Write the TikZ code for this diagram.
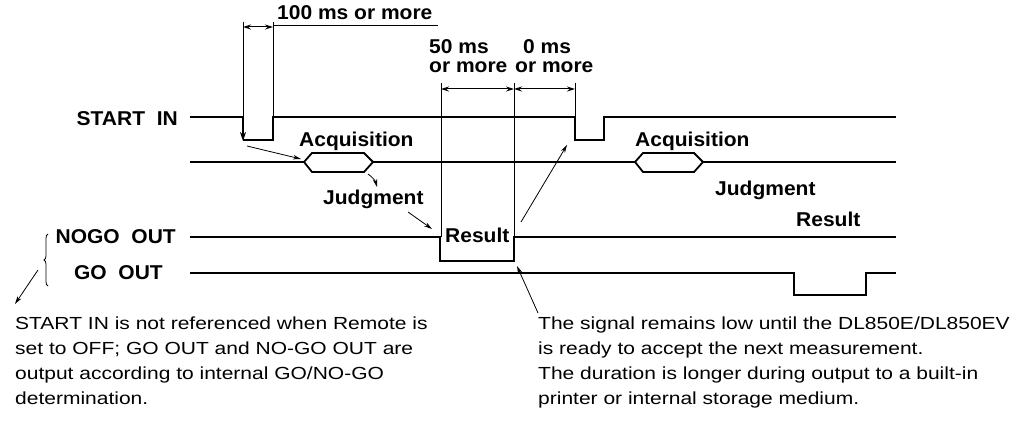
\documentclass[tikz,border=0pt]{standalone}
\usepackage{fontspec}
\setmainfont{Liberation Sans}
\newfontfamily\notefont[FakeStretch=1.2]{Liberation Sans}
\newfontfamily\tagfont[FakeStretch=1.05]{Liberation Sans}
\usetikzlibrary{arrows.meta,positioning,calc,decorations.pathreplacing}

\begin{document}
\begin{tikzpicture}[
    x=1pt, y=-1pt,
    tag/.style={font={\tagfont\bfseries\fontsize{20}{19}\selectfont}, inner sep=0pt, align=left},
    note/.style={font={\notefont\fontsize{17.5}{25}\selectfont}, inner sep=0pt, align=left},
    sig/.style={line width=1.8pt, line join=miter},
    ext/.style={line width=1pt},
    dim/.style={{Stealth[length=8pt,width=5pt]}-{Stealth[length=8pt,width=5pt]}, line width=1pt},
    ptr/.style={-{Stealth[length=8pt,width=4.5pt]}, line width=0.8pt}
  ]
    \useasboundingbox (0,0) rectangle (1016,425);

    % Signal names
    \node[tag, anchor=east] (startlbl) at (178,119) {START\ \ IN};
    \node[tag, anchor=east] (nogolbl)  at (176,237) {NOGO\ \ OUT};
    \node[tag, anchor=east] (golbl)    at (163,273) {GO\ \ OUT};

    % Timing labels
    \node[tag, anchor=base west] (t100) at (277,20) {100 ms or more};
    \node[tag, anchor=north west] (t50) at (429,39) {50 ms\\or more};
    \node[tag, anchor=north west] (t0)  at (515,39) {\hspace{8pt}0 ms\\or more};

    % Phase labels
    \node[tag, anchor=base west] (acq1)  at (299,146) {Acquisition};
    \node[tag, anchor=base west] (judg1) at (323,204) {Judgment};
    \node[tag, anchor=base west] (res1)  at (445,242) {Result};
    \node[tag, anchor=base west] (acq2)  at (635,146) {Acquisition};
    \node[tag, anchor=base west] (judg2) at (715,195) {Judgment};
    \node[tag, anchor=base west] (res2)  at (796,226) {Result};

    % Notes
    \node[note, anchor=north west] (remnote) at (15,317)
      {START IN is not referenced when Remote is\\set to OFF; GO OUT and NO-GO OUT are\\output according to internal GO/NO-GO\\determination.};
    \node[note, anchor=north west] (lownote) at (538,317)
      {The signal remains low until the DL850E/DL850EV\\is ready to accept the next measurement.\\The duration is longer during output to a built-in\\printer or internal storage medium.};

    % START IN
    \draw[sig] (190,117) -- (243,117);
    \draw[sig, -{Stealth[length=9pt,width=6pt]}] (243,117) -- (243,141);
    \draw[sig] (243,140) -- (273,140) -- (273,117) -- (575,117) -- (575,140)
      -- (604,140) -- (604,117) -- (896,117);

    % Acquisition / judgment line
    \draw[sig] (190,162) -- (304,162) -- (312,153) -- (364,153) -- (373,162)
      -- (364,172) -- (312,172) -- (304,162);
    \draw[sig] (373,162) -- (635,162) -- (643,153) -- (694,153) -- (703,162)
      -- (694,172) -- (643,172) -- (635,162);
    \draw[sig] (703,162) -- (896,162);

    % NOGO OUT and GO OUT
    \draw[sig] (190,237) -- (440,237) -- (440,261) -- (514,261) -- (514,237) -- (896,237);
    \draw[sig] (190,273) -- (794,273) -- (794,295) -- (866,295) -- (866,273) -- (896,273);

    % Extension lines
    \coordinate (e1) at (243,22);
    \coordinate (e2) at (273,22);
    \coordinate (e3) at (441,83);
    \coordinate (e4) at (514,83);
    \coordinate (e5) at (575,83);
    \draw[ext] (e1) -- (243,117);
    \draw[ext] (e2) -- (273,117);
    \draw[ext] (e3) -- (441,237);
    \draw[ext] (e4) -- (514,237);
    \draw[ext] (e5) -- (575,117);
    \draw[ext] (273,26) -- (438,26);

    % Dimension arrows
    \draw[dim] ($(e1)+(0,5)$) -- ($(e2)+(0,5)$);
    \draw[dim] ($(e3)+(0,6)$) -- ($(e4)+(0,6)$);
    \draw[dim] ($(e4)+(0,6)$) -- ($(e5)+(0,6)$);

    % Pointers
    \coordinate (p1s) at (247,146);
    \coordinate (p1e) at (301,159);
    \coordinate (p2s) at (368,174);
    \coordinate (p2e) at (377,187);
    \coordinate (p3s) at (408,212);
    \coordinate (p3e) at (432,229);
    \coordinate (p4s) at (521,222);
    \coordinate (p4e) at (567,145);
    \coordinate (p5s) at (538,313);
    \coordinate (p5e) at (517,266);
    \coordinate (p6s) at (38,270);
    \coordinate (p6e) at (15,304);
    \draw[ptr] (p1s) -- (p1e);
    \draw[ptr] (p2s) to[bend left=20] (p2e);
    \draw[ptr] (p3s) -- (p3e);
    \draw[ptr] (p4s) -- (p4e);
    \draw[ptr] (p5s) -- (p5e);
    \draw[ptr] (p6s) -- (p6e);

    % Brace
    \coordinate (bbot) at (48,286);
    \coordinate (btop) at (48,234);
    \draw[line width=0.8pt, decorate, decoration={brace, amplitude=4pt}] (bbot) -- (btop);
  \end{tikzpicture}
\end{document}
